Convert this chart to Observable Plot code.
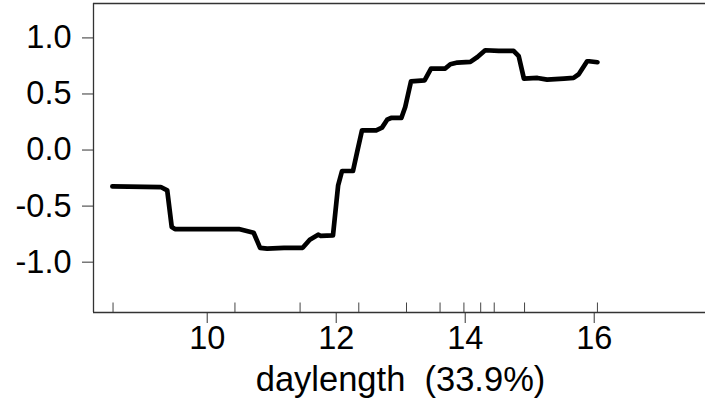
<!DOCTYPE html>
<html>
<head>
<meta charset="utf-8">
<script src="https://cdn.jsdelivr.net/npm/d3@7"></script>
<script src="https://cdn.jsdelivr.net/npm/@observablehq/plot@0.6"></script>
<style>
  html, body { margin: 0; padding: 0; background: #fff; overflow: hidden; }
  #wrap { width: 705px; height: 404px; overflow: hidden; position: relative; }
  #wrap svg { max-width: none !important; width: 760px !important; height: 404px !important; display: block; }
</style>
</head>
<body>
<div id="wrap"></div>
<script>
// Partial dependence of the response on daylength
const daylength = [8.53, 9.28, 9.38, 9.45, 9.50, 10.49, 10.72, 10.82, 10.93, 11.19, 11.48, 11.59, 11.72, 11.76, 11.95, 12.03, 12.09, 12.26, 12.33, 12.40, 12.62, 12.71, 12.79, 12.85, 13.01, 13.07, 13.16, 13.37, 13.47, 13.69, 13.77, 13.88, 14.08, 14.19, 14.31, 14.52, 14.75, 14.83, 14.91, 15.12, 15.27, 15.53, 15.68, 15.76, 15.89, 15.92, 16.05];
const fitted = [-0.324, -0.33, -0.36, -0.687, -0.705, -0.705, -0.738, -0.872, -0.88, -0.872, -0.872, -0.80, -0.755, -0.765, -0.762, -0.315, -0.187, -0.187, -0.003, 0.176, 0.176, 0.2, 0.271, 0.286, 0.286, 0.384, 0.613, 0.622, 0.727, 0.727, 0.765, 0.78, 0.786, 0.83, 0.89, 0.885, 0.885, 0.837, 0.637, 0.643, 0.628, 0.637, 0.643, 0.676, 0.792, 0.792, 0.783];
// rug (deciles of daylength)
const rugValues = [8.54, 10.43, 11.44, 12.35, 13.09, 13.61, 13.98, 14.24, 14.45, 14.92, 16.05];
const xTicks = [10, 12, 14, 16];
const yTicks = [-1.0, -0.5, 0.0, 0.5, 1.0];
const xLabel = "daylength  (33.9%)";

const xDomain = [8.237, 17.803];
const yDomain = [-1.449, 1.307];

const data = daylength.map((x, i) => ({x, y: fitted[i]}));

const chart = Plot.plot({
  width: 760,
  height: 404,
  marginLeft: 93,
  marginRight: 50,
  marginTop: 3,
  marginBottom: 92,
  style: {
    fontFamily: "'Liberation Sans', Arial, Helvetica, sans-serif",
    fontSize: "32.5px",
    color: "#000",
    background: "#fff",
    overflow: "visible",
    maxWidth: "none"
  },
  x: {domain: xDomain},
  y: {domain: yDomain},
  marks: [
    // box (left, top, bottom; right side lies outside the picture)
    Plot.ruleX([xDomain[0]], {stroke: "#333", strokeWidth: 1.3}),
    Plot.ruleY([yDomain[1]], {stroke: "#333", strokeWidth: 1.3}),
    Plot.ruleY([yDomain[0]], {stroke: "#333", strokeWidth: 1.3}),
    Plot.axisY({ticks: yTicks, tickSize: 11, tickPadding: 11, tickFormat: d => d.toFixed(1), stroke: "#333", label: null}),
    Plot.axisX({ticks: xTicks, tickSize: 11, tickPadding: 2, tickFormat: d => String(d), stroke: "#333", label: null}),
    Plot.tickX(rugValues, {x: d => d, stroke: "#444", strokeWidth: 1, insetTop: 299.5}),
    Plot.line(data, {x: "x", y: "y", stroke: "#000", strokeWidth: 4.7, strokeLinejoin: "round", strokeLinecap: "round"}),
    Plot.text([xLabel], {text: d => d, frameAnchor: "bottom", dy: 67, dx: -1.5, lineAnchor: "middle", fontSize: 34.5, fill: "#000"})
  ]
});
document.getElementById("wrap").appendChild(chart);
</script>
</body>
</html>
